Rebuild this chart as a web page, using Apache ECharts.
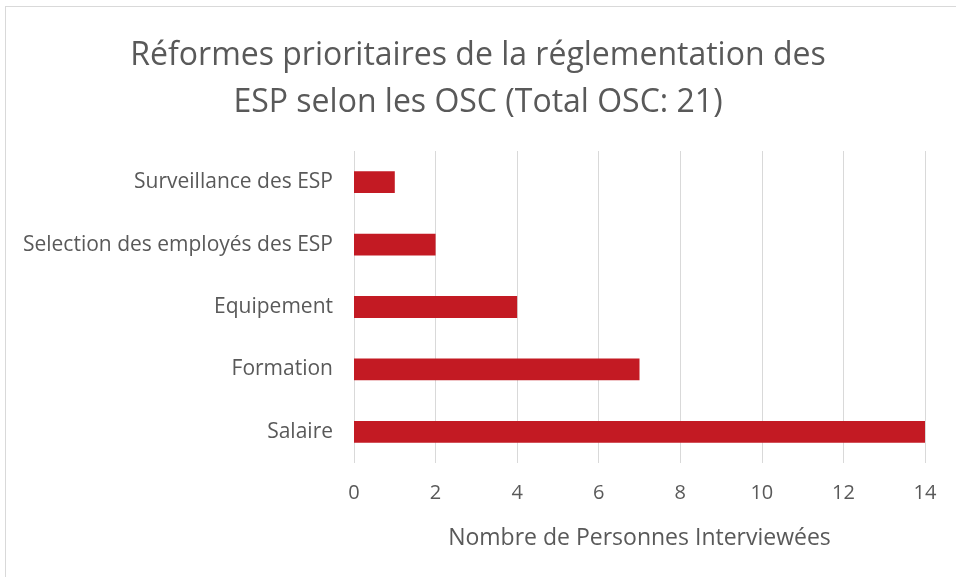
<!DOCTYPE html>
<html>
<head>
<meta charset="utf-8">
<script src="https://cdn.jsdelivr.net/npm/echarts@6/dist/echarts.min.js"></script>
<style>
  html, body { margin: 0; padding: 0; background: #fff; }
  #frame { position: absolute; left: 5px; top: 6px; width: 960px; height: 580px; border: 1px solid #d9d9d9; box-sizing: border-box; }
  #chart { position: absolute; left: 0; top: 0; width: 956px; height: 577px; }
</style>
</head>
<body>
<div id="frame"></div>
<div id="chart"></div>
<script>
// données du graphique
const categories = ['Salaire', 'Formation', 'Equipement', 'Selection des employés des ESP', 'Surveillance des ESP'];
const values = [14, 7, 4, 2, 1];
const titleLines = ['Réformes prioritaires de la réglementation des', 'ESP selon les OSC (Total OSC: 21)'];
const axisName = 'Nombre de Personnes Interviewées';

const font = 'Open Sans';
const chart = echarts.init(document.getElementById('chart'));
chart.setOption({
  animation: false,
  title: {
    text: titleLines.join('\n'),
    left: 'center',
    top: 27,
    textStyle: { fontFamily: font, fontSize: 32, fontWeight: 'normal', color: '#595959', lineHeight: 47 }
  },
  grid: { left: 354, right: 31, top: 151, bottom: 114 },
  xAxis: {
    type: 'value',
    min: 0,
    max: 14,
    interval: 2,
    name: axisName,
    nameLocation: 'middle',
    nameGap: 64,
    nameTextStyle: { fontFamily: font, fontSize: 23, color: '#595959' },
    axisLine: { show: false },
    axisTick: { show: false },
    axisLabel: { fontFamily: font, fontSize: 20, color: '#595959', margin: 20 },
    splitLine: { lineStyle: { color: '#d9d9d9', width: 1 } }
  },
  yAxis: {
    type: 'category',
    data: categories,
    axisLine: { show: false },
    axisTick: { show: false },
    axisLabel: { fontFamily: font, fontSize: 21, color: '#595959', margin: 21 }
  },
  series: [{
    type: 'bar',
    data: values,
    barWidth: '35%',
    itemStyle: { color: '#C31A23' }
  }]
});
</script>
</body>
</html>
